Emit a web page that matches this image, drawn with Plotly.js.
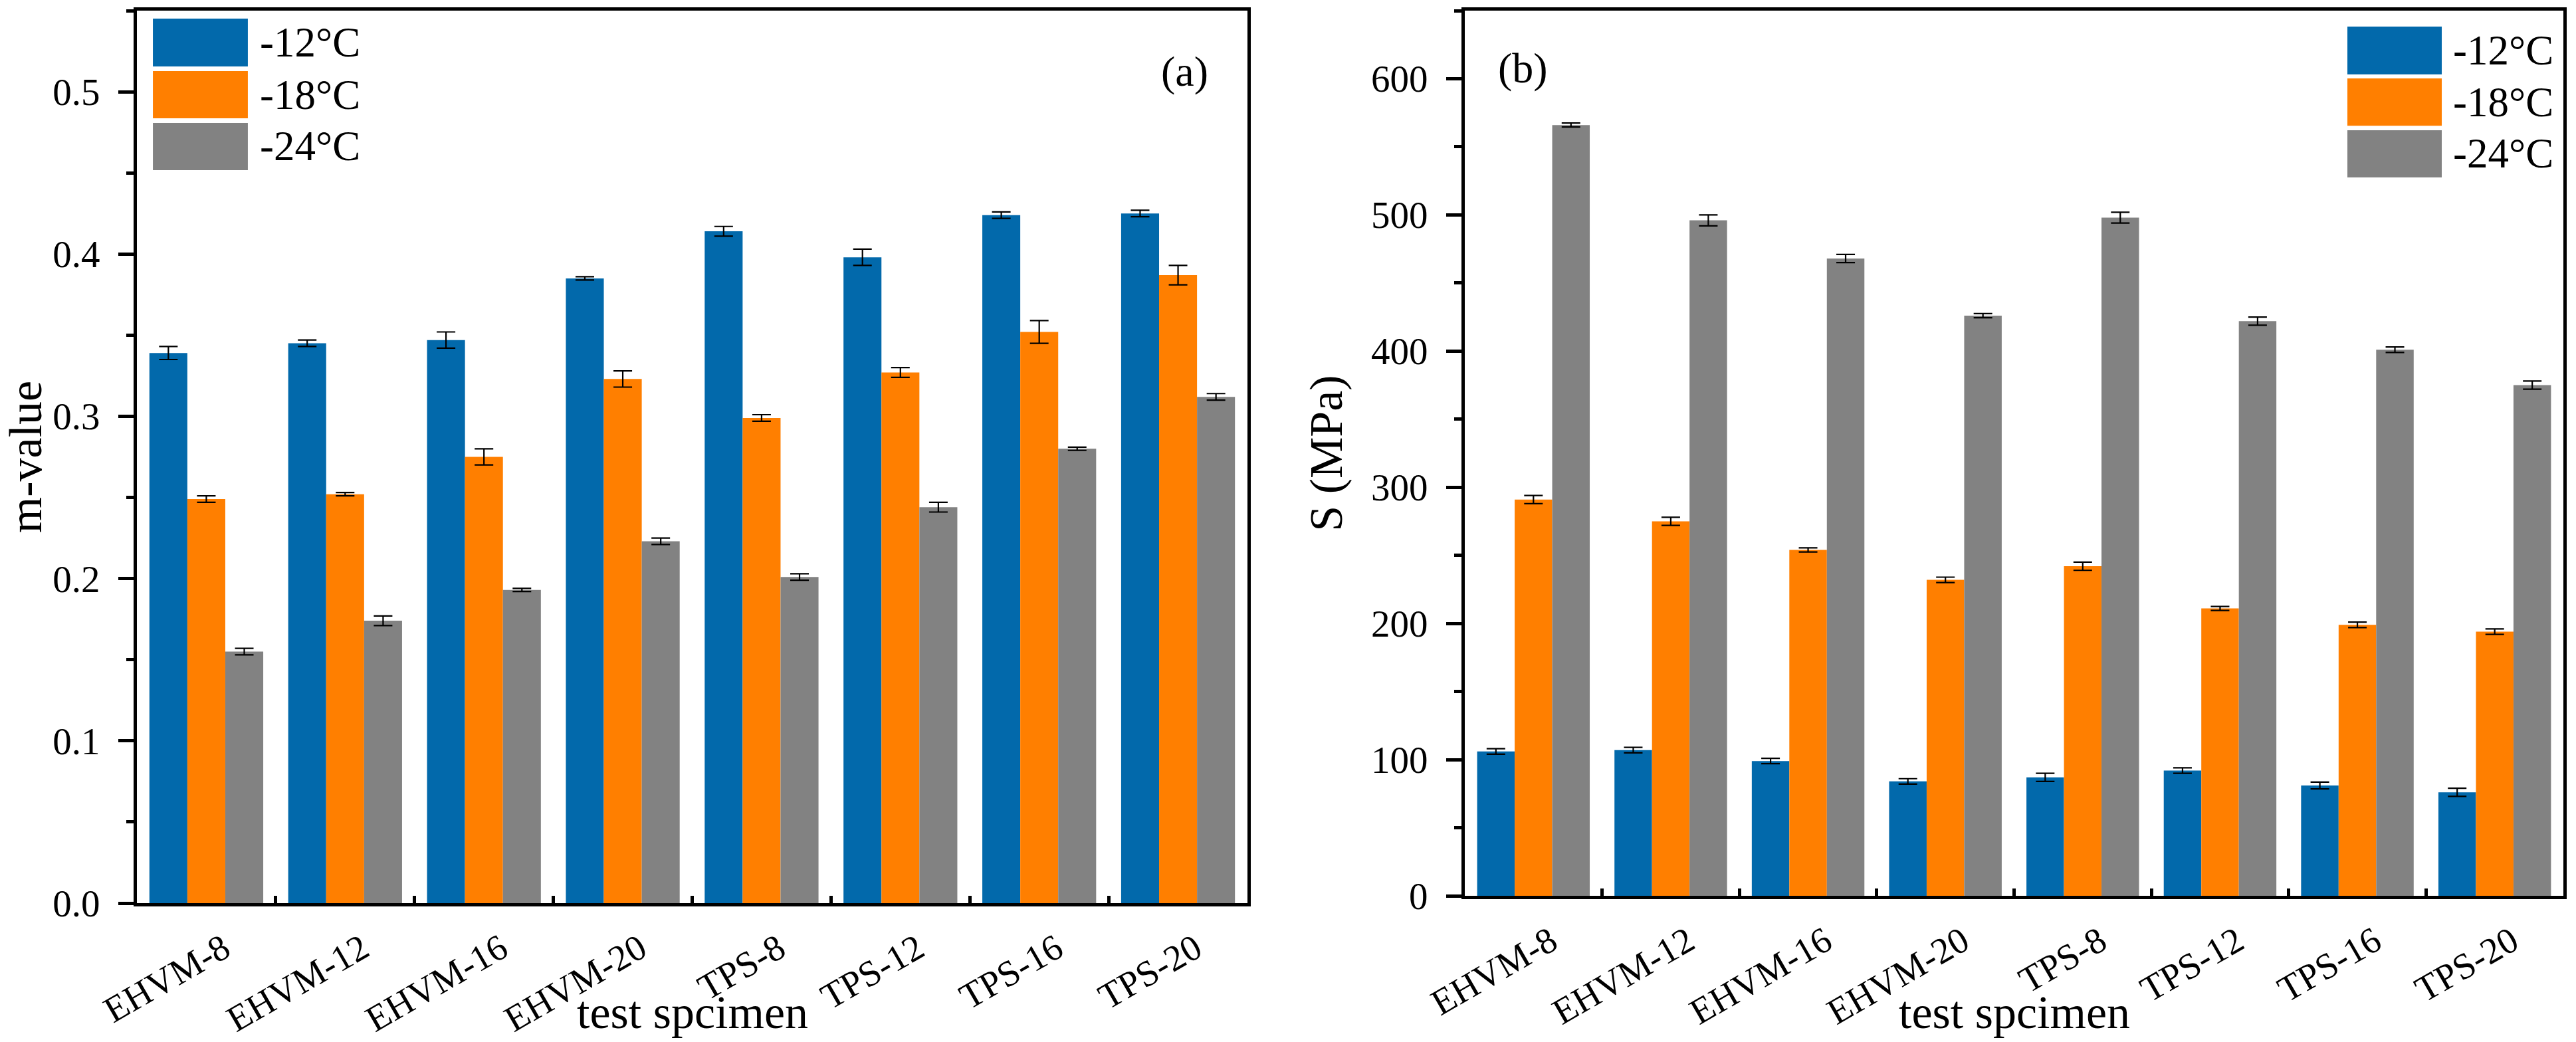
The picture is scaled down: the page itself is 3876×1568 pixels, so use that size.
<!DOCTYPE html>
<html>
<head>
<meta charset="utf-8">
<script src="https://cdn.plot.ly/plotly-3.0.1.min.js"></script>
<style>html,body{margin:0;padding:0;background:#fff;}#chart{width:3876px;height:1568px;}</style>
</head>
<body>
<div id="chart"></div>
<script>
const categories = ['EHVM-8','EHVM-12','EHVM-16','EHVM-20','TPS-8','TPS-12','TPS-16','TPS-20'];
const seriesNames = ['-12°C','-18°C','-24°C'];
const colors = ['#0269AB','#FF7F00','#828282'];

const mValue12 = [0.339,0.345,0.347,0.385,0.414,0.398,0.424,0.425];
const mValue18 = [0.249,0.252,0.275,0.323,0.299,0.327,0.352,0.387];
const mValue24 = [0.155,0.174,0.193,0.223,0.201,0.244,0.280,0.312];
const mErr12 = [0.004,0.002,0.005,0.001,0.003,0.005,0.002,0.002];
const mErr18 = [0.002,0.001,0.005,0.005,0.002,0.003,0.007,0.006];
const mErr24 = [0.002,0.003,0.001,0.002,0.002,0.003,0.001,0.002];

const S12 = [106,107,99,84,87,92,81,76];
const S18 = [291,275,254,232,242,211,199,194];
const S24 = [566,496,468,426,498,422,401,375];
const sErr12 = [2,2,2,2,3,2,2.5,3];
const sErr18 = [3,3,1.5,2,3,1.5,2,2];
const sErr24 = [1.5,4,3,1.5,4,3,2,3];

const xTitle = 'test spcimen';
const yTitleA = 'm-value';
const yTitleB = 'S (MPa)';
const panelLabels = ['(a)','(b)'];

const FONT = 'Liberation Serif';

function bar(y, err, i, xa, ya) {
  return {
    type: 'bar', x: categories, y: y, name: seriesNames[i],
    xaxis: xa, yaxis: ya, showlegend: false,
    marker: {color: colors[i], line: {width: 0}},
    error_y: {type: 'data', array: err, visible: true, color: '#000', thickness: 2.2, width: 14}
  };
}

const data = [
  bar(mValue12, mErr12, 0, 'x', 'y'),
  bar(mValue18, mErr18, 1, 'x', 'y'),
  bar(mValue24, mErr24, 2, 'x', 'y'),
  bar(S12, sErr12, 0, 'x2', 'y2'),
  bar(S18, sErr18, 1, 'x2', 'y2'),
  bar(S24, sErr24, 2, 'x2', 'y2')
];

const xCommon = {
  type: 'category', showline: true, linecolor: '#000', linewidth: 5, mirror: true,
  ticks: 'inside', tickson: 'boundaries', ticklen: 11, tickwidth: 5, tickcolor: '#000',
  tickangle: -30, ticklabelshift: 26, ticklabelstandoff: 10,
  tickfont: {family: FONT, size: 55, color: '#000'},
  showgrid: false, zeroline: false, range: [-0.5, 7.5]
};
const yCommon = {
  showline: true, linecolor: '#000', linewidth: 5, mirror: true,
  ticks: 'outside', ticklen: 23, tickwidth: 5, tickcolor: '#000', ticklabelstandoff: 16,
  tickfont: {family: FONT, size: 57, color: '#000'},
  showgrid: false, zeroline: false,
  title: {font: {family: FONT, size: 70, color: '#000'}, standoff: 22}
};

const layout = {
  width: 3876, height: 1568,
  margin: {l: 0, r: 0, t: 0, b: 0},
  paper_bgcolor: '#fff', plot_bgcolor: '#fff',
  barmode: 'group', bargap: 0.18, bargroupgap: 0,
  showlegend: false,
  xaxis: Object.assign({}, xCommon, {domain: [206/3876, 1877/3876], anchor: 'y'}),
  xaxis2: Object.assign({}, xCommon, {domain: [2204/3876, 3857/3876], anchor: 'y2'}),
  yaxis: Object.assign({}, yCommon, {
    domain: [1 - 1359/1568, 1 - 16/1568], anchor: 'x', range: [0, 0.55], dtick: 0.1, tickformat: '.1f',
    minor: {ticks: 'outside', ticklen: 11, tickwidth: 5, tickcolor: '#000', dtick: 0.05},
    title: Object.assign({}, yCommon.title, {text: yTitleA})
  }),
  yaxis2: Object.assign({}, yCommon, {
    domain: [1 - 1348/1568, 1 - 16/1568], anchor: 'x2', range: [0, 650], dtick: 100,
    minor: {ticks: 'outside', ticklen: 11, tickwidth: 5, tickcolor: '#000', dtick: 50},
    title: Object.assign({}, yCommon.title, {text: yTitleB})
  }),
  shapes: [],
  annotations: []
};

// x-axis titles
[['x', 'y'], ['x2', 'y2']].forEach(function (p) {
  layout.annotations.push({
    text: xTitle, xref: p[0] + ' domain', yref: 'paper', x: 0.5, y: 0.0, yanchor: 'bottom', yshift: 4,
    showarrow: false, font: {family: FONT, size: 70, color: '#000'}
  });
});

// panel labels
layout.annotations.push({text: panelLabels[0], xref: 'x domain', yref: 'y domain', x: 0.966, y: 0.96,
  showarrow: false, font: {family: FONT, size: 64, color: '#000'}});
layout.annotations.push({text: panelLabels[1], xref: 'x2 domain', yref: 'y2 domain', x: 0.029, y: 0.963,
  showarrow: false, font: {family: FONT, size: 64, color: '#000'}});

// legends (drawn as swatches + labels)
const legendA = {xr: 'x domain', yr: 'y domain', x0: 0.0144, x1: 0.0999, tx: 0.1095,
  rows: [[0.9911, 0.9375], [0.9322, 0.8794], [0.8742, 0.8213]]};
const legendB = {xr: 'x2 domain', yr: 'y2 domain', x0: 0.8034, x1: 0.8893, tx: 0.8984,
  rows: [[0.982, 0.928], [0.9234, 0.870], [0.8649, 0.8116]]};
[legendA, legendB].forEach(function (L) {
  seriesNames.forEach(function (name, i) {
    layout.shapes.push({type: 'rect', xref: L.xr, yref: L.yr, x0: L.x0, x1: L.x1,
      y0: L.rows[i][1], y1: L.rows[i][0], fillcolor: colors[i], line: {width: 0}});
    layout.annotations.push({text: name, xref: L.xr, yref: L.yr, x: L.tx, xanchor: 'left',
      y: (L.rows[i][0] + L.rows[i][1]) / 2, yanchor: 'middle', showarrow: false,
      font: {family: FONT, size: 63, color: '#000'}});
  });
});

Plotly.newPlot('chart', data, layout, {staticPlot: true, displayModeBar: false});
</script>
</body>
</html>
